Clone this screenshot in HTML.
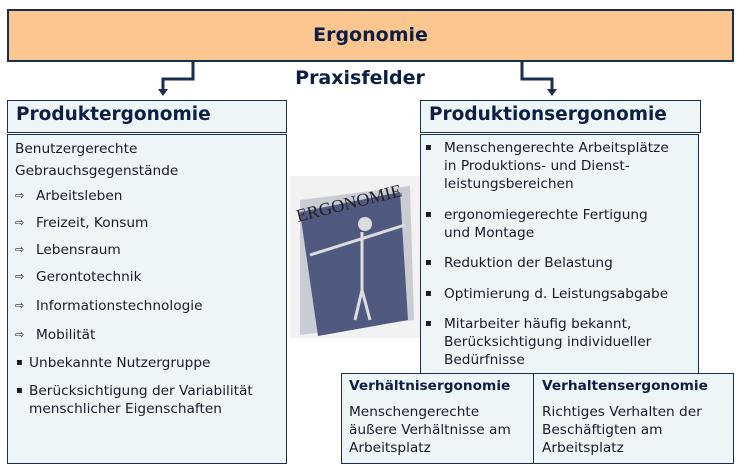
<!DOCTYPE html>
<html><head><meta charset="utf-8"><style>
body{margin:0;width:740px;height:469px;background:#fff;position:relative;overflow:hidden;font-family:"DejaVu Sans","Liberation Sans",sans-serif;color:#0a1a3a}
.b{position:absolute;box-sizing:border-box;border:1.5px solid #1a2e4e;background:#eef5f7}
.h{font-weight:bold;font-size:18.5px;padding:3px 0 0 8px;color:#0d1f45;white-space:nowrap}
.c{font-size:13.7px;line-height:18px;color:#1a1a2a}
.c p{margin:0 0 9px 0;position:relative;padding-left:21px}
.l p:before{content:"⇨";position:absolute;left:0;font-size:11px}
.r p{margin-bottom:12.5px}
.r p:before{content:"▪";position:absolute;left:2px;font-size:10px}
.l p.s{padding-left:14px}
.l p.s:before{content:"▪";font-size:10px;left:1px}
</style></head><body>
<div class="b" style="left:7px;top:9px;width:727px;height:53px;background:#fcc690;border-width:2px;text-align:center;font-weight:bold;font-size:19px;line-height:48px;color:#0d1f45">Ergonomie</div>
<svg width="740" height="469" style="position:absolute;left:0;top:0">
<polyline points="193,62 193,79 163,79 163,90" fill="none" stroke="#1a2e4e" stroke-width="3"/>
<polygon points="158,89 168,89 163,96" fill="#1a2e4e"/>
<polyline points="522,62 522,79 552,79 552,90" fill="none" stroke="#1a2e4e" stroke-width="3"/>
<polygon points="547,89 557,89 552,96" fill="#1a2e4e"/>
<polygon points="290,176 420,176 420,338 290,338" fill="#f2f2f2"/>
<polygon points="300,200 410,186 414,320 300,335" fill="#c9ccd4"/>
<polygon points="300,212 400,192 408,320 318,336" fill="#505a80"/>
<text x="298" y="222" font-family="Liberation Serif" font-size="18" fill="#222" transform="rotate(-14 298 222)">ERGONOMIE</text>
<g stroke="#ddd" stroke-width="3" fill="none"><line x1="362" y1="232" x2="362" y2="290"/><line x1="310" y1="255" x2="405" y2="225"/><line x1="362" y1="290" x2="355" y2="320"/><line x1="362" y1="290" x2="370" y2="320"/></g>
<circle cx="365" cy="224" r="7" fill="#ddd"/>
</svg>
<div style="position:absolute;left:0;width:720px;top:67px;text-align:center;font-weight:bold;font-size:19px;color:#0d1f45">Praxisfelder</div>
<div class="b h" style="left:7px;top:100px;width:280px;height:33px">Produktergonomie</div>
<div class="b c l" style="left:7px;top:134px;width:280px;height:330px;padding:3px 7px">
<div style="margin-bottom:5px;line-height:22px">Benutzergerechte<br>Gebrauchsgegenstände</div>
<p>Arbeitsleben</p><p>Freizeit, Konsum</p><p>Lebensraum</p><p style="margin-bottom:11px">Gerontotechnik</p><p style="margin-bottom:11px">Informationstechnologie</p><p style="margin-bottom:10px">Mobilität</p>
<p class="s" style="margin-bottom:10px">Unbekannte Nutzergruppe</p>
<p class="s">Berücksichtigung der Variabilität menschlicher Eigenschaften</p>
</div>
<div class="b h" style="left:420px;top:100px;width:281px;height:33px">Produktionsergonomie</div>
<div class="b c r" style="left:420px;top:134px;width:279px;height:240px;padding:4px 2px">
<p>Menschengerechte Arbeitsplätze<br>in Produktions- und Dienst-<br>leistungsbereichen</p>
<p>ergonomiegerechte Fertigung<br>und Montage</p><p>Reduktion der Belastung</p><p>Optimierung d. Leistungsabgabe</p>
<p>Mitarbeiter häufig bekannt,<br>Berücksichtigung individueller<br>Bedürfnisse</p></div>
<div class="b c" style="left:341px;top:373px;width:194px;height:91px;padding:3px 7px;white-space:nowrap"><b style="color:#0d1f45">Verhältnisergonomie</b><div style="margin-top:8px;line-height:18px">Menschengerechte<br>äußere Verhältnisse am<br>Arbeitsplatz</div></div>
<div class="b c" style="left:533px;top:373px;width:201px;height:91px;padding:3px 8px;white-space:nowrap"><b style="color:#0d1f45">Verhaltensergonomie</b><div style="margin-top:8px;line-height:18px">Richtiges Verhalten der<br>Beschäftigten am<br>Arbeitsplatz</div></div>
</body></html>
